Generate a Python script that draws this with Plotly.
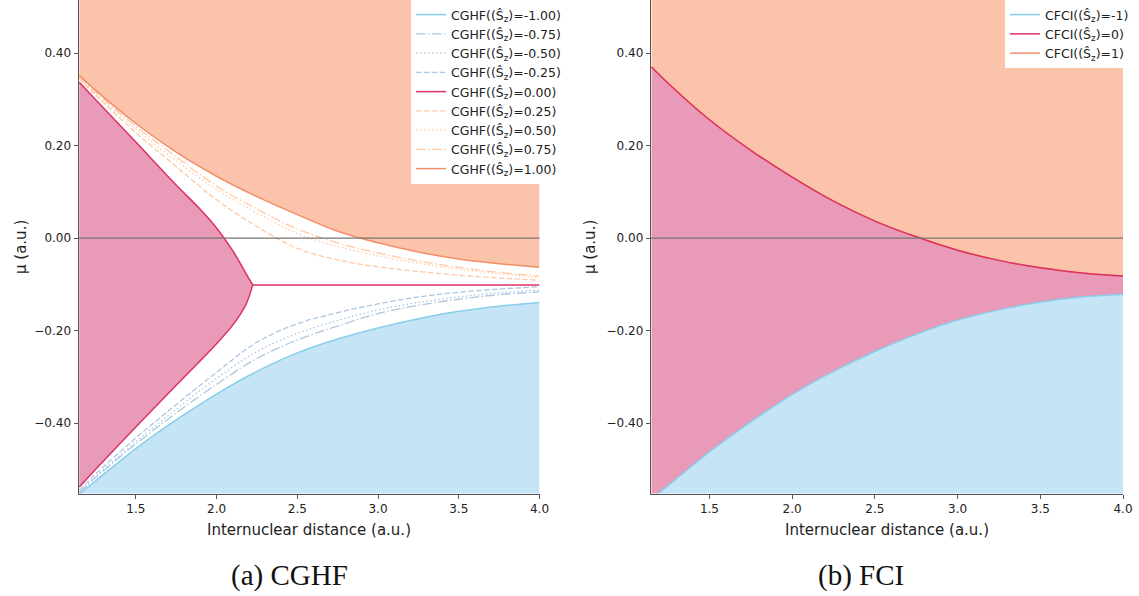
import plotly.graph_objects as go

# ---------------- data ----------------
# internuclear distance grid (a.u.)
x_grid = [1.15, 1.25, 1.5, 1.75, 2.0, 2.25, 2.5, 2.75, 3.0, 3.25, 3.5, 3.75, 4.0]

# CGHF chemical-potential thresholds for each constrained <S_z>
cghf_p100 = [0.352, 0.320, 0.248, 0.186, 0.134, 0.090, 0.051, 0.015, -0.010, -0.030, -0.045, -0.055, -0.063]
cghf_p075 = [0.349, 0.316, 0.242, 0.176, 0.113, 0.063, 0.020, -0.010, -0.032, -0.049, -0.063, -0.074, -0.082]
cghf_p050 = [0.347, 0.313, 0.236, 0.168, 0.105, 0.055, 0.010, -0.018, -0.038, -0.054, -0.067, -0.077, -0.085]
cghf_p025 = [0.345, 0.310, 0.228, 0.155, 0.083, 0.025, -0.022, -0.047, -0.062, -0.072, -0.080, -0.086, -0.091]
cghf_m025 = [-0.545, -0.510, -0.432, -0.360, -0.290, -0.225, -0.185, -0.161, -0.142, -0.127, -0.117, -0.110, -0.105]
cghf_m050 = [-0.548, -0.515, -0.440, -0.370, -0.303, -0.245, -0.206, -0.178, -0.155, -0.139, -0.127, -0.118, -0.112]
cghf_m075 = [-0.550, -0.518, -0.445, -0.378, -0.316, -0.260, -0.220, -0.190, -0.163, -0.145, -0.132, -0.122, -0.116]
cghf_m100 = [-0.553, -0.525, -0.455, -0.393, -0.337, -0.288, -0.248, -0.218, -0.194, -0.174, -0.158, -0.147, -0.139]

# CGHF <S_z>=0: two branches meeting at the kink, then a plateau
s0_upper_x = [1.15, 1.25, 1.5, 1.75, 1.9, 2.0, 2.1, 2.2, 2.224]
s0_upper = [0.337, 0.300, 0.208, 0.115, 0.062, 0.022, -0.027, -0.087, -0.101]
s0_lower_x = [1.15, 1.25, 1.5, 1.75, 2.0, 2.1, 2.18, 2.224]
s0_lower = [-0.538, -0.500, -0.408, -0.318, -0.228, -0.188, -0.145, -0.101]
s0_plateau_x = [2.224, 2.5, 3.0, 3.5, 4.0]
s0_plateau = [-0.101, -0.101, -0.101, -0.101, -0.101]

# CFCI thresholds
fci_p1 = [0.370, 0.335, 0.256, 0.190, 0.132, 0.080, 0.037, 0.003, -0.026, -0.048, -0.064, -0.075, -0.082]
fci_0 = [0.370, 0.335, 0.256, 0.190, 0.132, 0.080, 0.037, 0.003, -0.026, -0.048, -0.064, -0.075, -0.082]
fci_m1 = [-0.563, -0.535, -0.462, -0.397, -0.338, -0.288, -0.245, -0.208, -0.177, -0.155, -0.138, -0.127, -0.121]

cghf_labels = ["-1.00", "-0.75", "-0.50", "-0.25", "0.00", "0.25", "0.50", "0.75", "1.00"]
fci_labels = ["-1", "0", "1"]

x_ticks = [1.5, 2.0, 2.5, 3.0, 3.5, 4.0]
y_ticks = [-0.4, -0.2, 0.0, 0.2, 0.4]
x_range = [1.145, 4.0]
y_range = [-0.552, 0.515]

# ---------------- styles ----------------
W, H = 1139, 596
ORANGE_FILL = "#fcc3ab"
PINK_FILL = "#e99ab9"
BLUE_FILL = "#c5e4f5"
ORANGE = "#f28e68"
PINK = "#de3163"
BLUE = "#87ceeb"
ORANGE_LIGHT = "#ffcaa6"
BLUE_LIGHT = "#adc6e2"
DASH = "5.5px,2.4px"
DOT = "1.5px,2.5px"
DASHDOT = "9.6px,2.4px,1.5px,2.4px"
TOP, BOTTOM = 0.7, -0.7


def label(prefix, val):
    return f"{prefix}((Ŝ<sub>z</sub>)={val})"


fig = go.Figure()


def band(xa, ya, xb, yb, color, ax):
    """Fill the region between curve a and curve b."""
    fig.add_trace(go.Scatter(x=xa, y=ya, mode="lines", line=dict(width=0, shape="spline"),
                             showlegend=False, hoverinfo="skip", xaxis=ax[0], yaxis=ax[1]))
    fig.add_trace(go.Scatter(x=xb, y=yb, mode="lines", line=dict(width=0, shape="spline"),
                             fill="tonexty", fillcolor=color, showlegend=False,
                             hoverinfo="skip", xaxis=ax[0], yaxis=ax[1]))


def curve(x, y, color, dash, name, ax, legend, width=1.5, show=True, group=None, rank=1000):
    fig.add_trace(go.Scatter(x=x, y=y, mode="lines", name=name,
                             line=dict(color=color, width=width, dash=dash, shape="spline"),
                             showlegend=show, legendgroup=group, legend=legend, legendrank=rank,
                             hoverinfo="skip", xaxis=ax[0], yaxis=ax[1]))


# ---- panel (a): CGHF ----
A = ("x", "y")
band(x_grid, [TOP] * len(x_grid), x_grid, cghf_p100, ORANGE_FILL, A)
band(s0_upper_x, s0_upper, s0_lower_x, s0_lower, PINK_FILL, A)
band(x_grid, [BOTTOM] * len(x_grid), x_grid, cghf_m100, BLUE_FILL, A)

curve(x_grid, cghf_m100, BLUE, "solid", label("CGHF", cghf_labels[0]), A, "legend", rank=1)
curve(x_grid, cghf_m075, BLUE_LIGHT, DASHDOT, label("CGHF", cghf_labels[1]), A, "legend", 1.3, rank=2)
curve(x_grid, cghf_m050, BLUE_LIGHT, DOT, label("CGHF", cghf_labels[2]), A, "legend", 1.3, rank=3)
curve(x_grid, cghf_m025, BLUE_LIGHT, DASH, label("CGHF", cghf_labels[3]), A, "legend", 1.3, rank=4)
curve(s0_upper_x, s0_upper, PINK, "solid", label("CGHF", cghf_labels[4]), A, "legend", group="s0", rank=5)
curve(s0_lower_x, s0_lower, PINK, "solid", "", A, "legend", show=False, group="s0")
curve(s0_plateau_x, s0_plateau, PINK, "solid", "", A, "legend", show=False, group="s0")
curve(x_grid, cghf_p025, ORANGE_LIGHT, DASH, label("CGHF", cghf_labels[5]), A, "legend", 1.3, rank=6)
curve(x_grid, cghf_p050, ORANGE_LIGHT, DOT, label("CGHF", cghf_labels[6]), A, "legend", 1.3, rank=7)
curve(x_grid, cghf_p075, ORANGE_LIGHT, DASHDOT, label("CGHF", cghf_labels[7]), A, "legend", 1.3, rank=8)
curve(x_grid, cghf_p100, ORANGE, "solid", label("CGHF", cghf_labels[8]), A, "legend", rank=9)

# ---- panel (b): FCI ----
B = ("x2", "y2")
band(x_grid, [TOP] * len(x_grid), x_grid, fci_p1, ORANGE_FILL, B)
band(x_grid, fci_0, x_grid, fci_m1, PINK_FILL, B)
band(x_grid, [BOTTOM] * len(x_grid), x_grid, fci_m1, BLUE_FILL, B)

curve(x_grid, fci_m1, BLUE, "solid", label("CFCI", fci_labels[0]), B, "legend2", rank=1)
curve(x_grid, fci_p1, ORANGE, "solid", label("CFCI", fci_labels[2]), B, "legend2", rank=3)
curve(x_grid, fci_0, PINK, "solid", label("CFCI", fci_labels[1]), B, "legend2", rank=2)

# ---------------- layout ----------------
def px_x(p):
    return p / W


def px_y(p):
    return 1 - p / H


axis_common = dict(showgrid=False, zeroline=False, showline=True, linecolor="#555555",
                   linewidth=1, ticks="outside", ticklen=4, tickwidth=1, tickcolor="#555555",
                   automargin=False,
                   tickfont=dict(family="DejaVu Sans", size=12, color="#222222"))

xa_dom = [px_x(78.5), px_x(539.5)]
xb_dom = [px_x(650.7), px_x(1123)]
y_dom = [px_y(493.5), 1.0]

legend_common = dict(y=1, xanchor="left", yanchor="top", bgcolor="white", borderwidth=0,
                     font=dict(family="DejaVu Sans", size=12.5, color="#222222"),
                     itemwidth=30, tracegroupgap=0, traceorder="normal")

fig.update_layout(
    width=W, height=H,
    margin=dict(l=0, r=0, t=0, b=0, autoexpand=False),
    paper_bgcolor="white", plot_bgcolor="white",
    xaxis=dict(domain=xa_dom, range=x_range, tickvals=x_ticks, tickformat=".1f", anchor="y", **axis_common),
    yaxis=dict(domain=y_dom, range=y_range, tickvals=y_ticks, tickformat=".2f", anchor="x", **axis_common),
    xaxis2=dict(domain=xb_dom, range=x_range, tickvals=x_ticks, tickformat=".1f", anchor="y2", **axis_common),
    yaxis2=dict(domain=y_dom, range=y_range, tickvals=y_ticks, tickformat=".2f", anchor="x2", **axis_common),
    legend=dict(x=px_x(411), **legend_common),
    legend2=dict(x=px_x(1005), **legend_common),
    showlegend=True,
)

# horizontal zero reference lines
for xr, yr in (("x domain", "y"), ("x2 domain", "y2")):
    fig.add_shape(type="line", xref=xr, yref=yr, x0=0, x1=1, y0=0, y1=0,
                  line=dict(color="#747474", width=1.2), layer="above")

ann_font = dict(family="DejaVu Sans", size=15, color="#222222")
cap_font = dict(family="Liberation Serif", size=29, color="#111111")
annotations = [
    dict(text="Internuclear distance (a.u.)", x=px_x(309), y=px_y(530), font=ann_font),
    dict(text="Internuclear distance (a.u.)", x=px_x(887), y=px_y(530), font=ann_font),
    dict(text="μ (a.u.)", x=px_x(21), y=px_y(247), textangle=-90, font=ann_font),
    dict(text="μ (a.u.)", x=px_x(590), y=px_y(247), textangle=-90, font=ann_font),
    dict(text="(a) CGHF", x=px_x(289), y=px_y(575), font=cap_font),
    dict(text="(b) FCI", x=px_x(861), y=px_y(575), font=cap_font),
]
for a in annotations:
    fig.add_annotation(xref="paper", yref="paper", showarrow=False,
                       xanchor="center", yanchor="middle", **a)

fig.write_html("out.html")
